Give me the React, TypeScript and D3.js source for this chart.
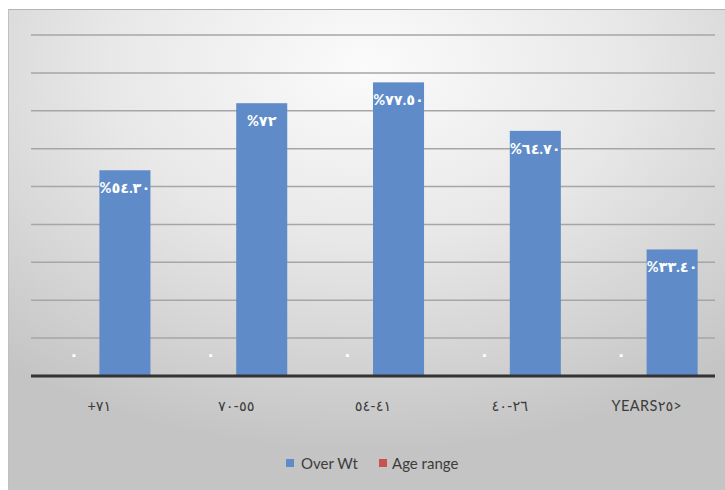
import React from "react";
import * as d3 from "d3";

const categories = ["+٧١", "٧٠-٥٥", "٥٤-٤١", "٤٠-٢٦", "YEARS٢٥>"];
const seriesNames = ["Age range", "Over Wt"];
const overWt = [54.3, 72, 77.5, 64.7, 33.4];
const overWtLabels = ["%٥٤.٣٠", "%٧٢", "%٧٧.٥٠", "%٦٤.٧٠", "%٣٣.٤٠"];
const ageRange = [0, 0, 0, 0, 0];
const ageRangeLabels = ["٠", "٠", "٠", "٠", "٠"];
const yTicks = [0, 10, 20, 30, 40, 50, 60, 70, 80, 90];
const colors = { "Over Wt": "#5f8cc8", "Age range": "#c9524f" };

const W = 725;
const H = 490;
const plot = { left: 31, right: 715, top: 35, bottom: 376 };

export default function App() {
  const x = d3.scaleBand<string>().domain(categories).range([plot.left, plot.right]).padding(0);
  const xi = d3
    .scaleBand<string>()
    .domain(seriesNames)
    .range([0, x.bandwidth()])
    .paddingInner(0)
    .paddingOuter(0.34);
  const y = d3.scaleLinear().domain([0, 90]).range([plot.bottom, plot.top]);
  const font = "Lato, 'DejaVu Sans', sans-serif";

  return (
    <svg
      width={W}
      height={H}
      style={{ position: "absolute", left: 0, top: 0, background: "#fff" }}
    >
      <defs>
        <radialGradient id="bg" cx="50%" cy="12%" r="80%" fx="50%" fy="12%">
          <stop offset="0" stopColor="#fbfbfb" />
          <stop offset="0.45" stopColor="#e8e8e8" />
          <stop offset="1" stopColor="#c4c4c4" />
        </radialGradient>
      </defs>
      <rect x={8} y={9} width={W - 8} height={H - 9} fill="url(#bg)" />
      <line x1={8} x2={W} y1={9.5} y2={9.5} stroke="#b4b4b4" strokeWidth={1} />
      <line x1={8.5} x2={8.5} y1={9} y2={H} stroke="#c0c0c0" strokeWidth={1} />

      {yTicks.slice(1).map((t) => (
        <line
          key={t}
          x1={plot.left}
          x2={plot.right}
          y1={y(t)}
          y2={y(t)}
          stroke="#a6a6a6"
          strokeWidth={1.5}
        />
      ))}

      {categories.map((c, i) => (
        <g key={c}>
          <rect
            x={(x(c) as number) + (xi("Age range") as number)}
            y={y(ageRange[i])}
            width={xi.bandwidth()}
            height={plot.bottom - y(ageRange[i])}
            fill={colors["Age range"]}
          />
          <rect
            x={(x(c) as number) + (xi("Over Wt") as number)}
            y={y(overWt[i])}
            width={xi.bandwidth()}
            height={plot.bottom - y(overWt[i])}
            fill={colors["Over Wt"]}
          />
        </g>
      ))}

      {categories.map((c, i) => (
        <g key={"l" + c}>
          <text
            x={(x(c) as number) + (xi("Over Wt") as number) + xi.bandwidth() / 2}
            y={y(overWt[i]) + 23}
            fill="#ffffff"
            fontSize={14.5}
            fontWeight="bold"
            letterSpacing={0.6}
            fontFamily={font}
            textAnchor="middle"
            direction="ltr"
            unicodeBidi="bidi-override"
          >
            {overWtLabels[i]}
          </text>
          <text
            x={(x(c) as number) + (xi("Age range") as number) + xi.bandwidth() / 2}
            y={y(ageRange[i]) - 16}
            fill="#ffffff"
            fontSize={16}
            fontWeight="bold"
            fontFamily={font}
            textAnchor="middle"
          >
            {ageRangeLabels[i]}
          </text>
          <text
            x={(x(c) as number) + x.bandwidth() / 2}
            y={410.5}
            fill="#3c3c3c"
            fontSize={14.5}
            letterSpacing={0.4}
            fontFamily={font}
            textAnchor="middle"
            direction="ltr"
            unicodeBidi="bidi-override"
          >
            {c}
          </text>
        </g>
      ))}

      <line
        x1={plot.left}
        x2={plot.right}
        y1={plot.bottom}
        y2={plot.bottom}
        stroke="#333333"
        strokeWidth={3}
      />

      <g fontFamily={font} fontSize={15} fill="#3c3c3c">
        <rect x={286} y={459} width={8} height={8} fill={colors["Over Wt"]} />
        <text x={301} y={468.5}>Over Wt</text>
        <rect x={379} y={459} width={8} height={8} fill={colors["Age range"]} />
        <text x={392} y={468.5}>Age range</text>
      </g>
    </svg>
  );
}
